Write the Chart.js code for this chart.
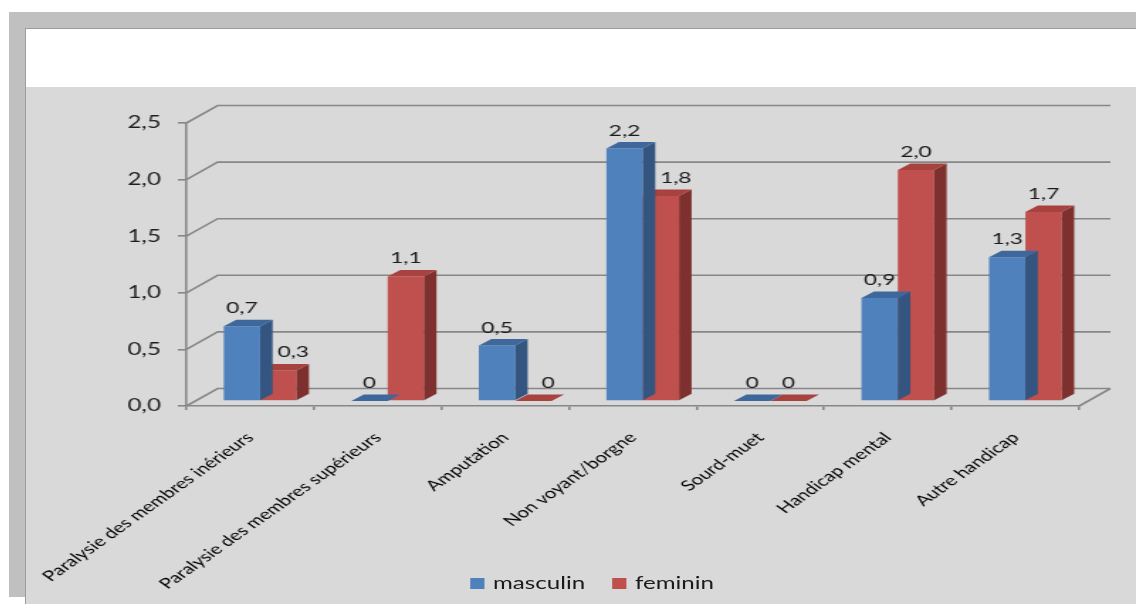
<!DOCTYPE html>
<html>
<head>
<meta charset="utf-8">
<script src="https://cdn.jsdelivr.net/npm/chart.js@4.4.1/dist/chart.umd.min.js"></script>
<style>
  html, body { margin: 0; padding: 0; background: #fff; width: 1136px; height: 604px; overflow: hidden; }
  #frame { position: absolute; left: 9px; top: 12px; width: 1127px; height: 585px; background: #c0c0c0; }
  #sheet { position: absolute; left: 25px; top: 28px; right: 0; bottom: 0; background: #fff; border-left: 1px solid #9c9c9c; border-top: 1px solid #9c9c9c; }
  /* the source picture is stretched sideways, so the chart is drawn narrow and widened */
  #stage { position: absolute; left: 26px; top: 87px; width: 782px; height: 517px; background: #d9d9d9; transform: scaleX(1.4194); transform-origin: 0 0; }
  #stage canvas { position: absolute; left: 0; top: 0; }
  #legend { position: absolute; left: 0; top: 0; width: 782px; height: 517px; font: 17px Lato, sans-serif; color: #1a1a1a; pointer-events: none; }
  #legend .sw { position: absolute; top: 491px; width: 10px; height: 11px; }
  #legend .tx { position: absolute; top: 486px; line-height: 20px; white-space: nowrap; }
</style>
</head>
<body>
<div id="frame"></div>
<div id="sheet"></div>
<div id="stage">
  <canvas id="chart" width="782" height="517"></canvas>
  <div id="legend"></div>
</div>
<script>
(() => {
  'use strict';
  const categories = ['Paralysie des membres inérieurs', 'Paralysie des membres supérieurs', 'Amputation', 'Non voyant/borgne', 'Sourd-muet', 'Handicap mental', 'Autre handicap'];
  const masculin = [0.66, 0, 0.49, 2.23, 0, 0.91, 1.27];
  const feminin = [0.27, 1.1, 0, 1.81, 0, 2.04, 1.67];
  const yTicks = [0, 0.5, 1, 1.5, 2, 2.5];

  const GRID = '#878787';
  const FRONT = ['#4f81bd', '#c0504d'];
  const TOP = ['#3e689c', '#a8423f'];
  const SIDE = ['#34557f', '#7e302e'];
  const FLOOR = { dx: 22, dy: -17.5 };   // depth of the floor / side wall
  const SHIFT = { dx: 7, dy: -5 };       // bars sit a little back from the front edge
  const DEPTH = { dx: 8.8, dy: -6.5 };   // depth of one bar

  const $ = id => document.getElementById(id);
  const fmt = v => v === 0 ? '0' : v.toFixed(1).replace('.', ',');

  function poly(ctx, pts, color) {
    ctx.fillStyle = color;
    ctx.beginPath();
    pts.forEach(([px, py], i) => i ? ctx.lineTo(px, py) : ctx.moveTo(px, py));
    ctx.closePath();
    ctx.fill();
  }

  const box3d = {
    id: 'box3d',
    beforeDatasetsDraw(chart) {
      const { ctx, chartArea: a, scales: { y } } = chart;
      ctx.save();
      ctx.strokeStyle = GRID; ctx.lineWidth = 1.6;
      ctx.beginPath();
      yTicks.forEach(v => {
        const py = y.getPixelForValue(v);
        ctx.moveTo(a.left, py);
        ctx.lineTo(a.left + FLOOR.dx, py + FLOOR.dy);
        ctx.lineTo(a.right + FLOOR.dx, py + FLOOR.dy);
      });
      ctx.moveTo(a.right, a.bottom);
      ctx.lineTo(a.right + FLOOR.dx, a.bottom + FLOOR.dy);
      ctx.stroke();
      ctx.restore();
      ctx.save();
      ctx.translate(SHIFT.dx, SHIFT.dy);
    },
    afterDatasetDraw(chart, args) {
      const ctx = chart.ctx, i = args.index;
      args.meta.data.forEach(bar => {
        const { x, y, base, width } = bar.getProps(['x', 'y', 'base', 'width'], true);
        const l = x - width / 2, r = x + width / 2;
        poly(ctx, [[r, y], [r + DEPTH.dx, y + DEPTH.dy], [r + DEPTH.dx, base + DEPTH.dy], [r, base]], SIDE[i]);
        poly(ctx, [[l, y], [r, y], [r + DEPTH.dx, y + DEPTH.dy], [l + DEPTH.dx, y + DEPTH.dy]], TOP[i]);
      });
    },
    afterDatasetsDraw(chart) {
      const ctx = chart.ctx;
      ctx.restore();
      ctx.save();
      ctx.translate(SHIFT.dx, SHIFT.dy);
      ctx.font = '16px Lato, sans-serif';
      ctx.fillStyle = '#1a1a1a';
      ctx.textAlign = 'center';
      ctx.textBaseline = 'alphabetic';
      chart.data.datasets.forEach((ds, i) => {
        chart.getDatasetMeta(i).data.forEach((bar, j) => {
          const v = ds.data[j];
          const nudge = i === 1 && masculin[j] > feminin[j] ? 10.5 : 0;
          ctx.fillText(fmt(v), bar.x + nudge, bar.y - 13);
        });
      });
      ctx.restore();
    }
  };

  function buildLegend() {
    const items = [['masculin', FRONT[0], 313, 329], ['feminin', FRONT[1], 413, 429]];
    $('legend').innerHTML = items.map(([t, c, sx, tx]) =>
      `<div class="sw" style="left:${sx}px;background:${c}"></div><div class="tx" style="left:${tx}px">${t}</div>`).join('');
  }

  new Chart($('chart'), {
    type: 'bar',
    data: {
      labels: categories,
      datasets: [
        { label: 'masculin', data: masculin, backgroundColor: FRONT[0], borderWidth: 0, categoryPercentage: 0.57, barPercentage: 1, clip: false },
        { label: 'feminin', data: feminin, backgroundColor: FRONT[1], borderWidth: 0, categoryPercentage: 0.57, barPercentage: 1, clip: false }
      ]
    },
    options: {
      responsive: false, animation: false, devicePixelRatio: 1,
      layout: { padding: { left: 0, right: 40, top: 36, bottom: 0 } },
      plugins: { legend: { display: false }, tooltip: { enabled: false } },
      scales: {
        x: {
          grid: { offset: true, drawOnChartArea: false, drawTicks: true, tickLength: 4, color: GRID, lineWidth: 1.6 },
          border: { display: true, color: GRID, width: 1.6 },
          ticks: { minRotation: 45, maxRotation: 45, autoSkip: false, padding: 19, color: '#000', font: { family: 'Lato', size: 14.5 } },
          afterFit: s => { s.height = 198; s.paddingLeft = 0; s.paddingRight = 0; }
        },
        y: {
          min: 0, max: 2.5,
          afterBuildTicks: s => { s.ticks = yTicks.map(v => ({ value: v })); },
          grid: { drawOnChartArea: false, drawTicks: true, tickLength: 6, color: GRID, lineWidth: 1.6 },
          border: { display: true, color: GRID, width: 1.6 },
          ticks: { padding: 12, color: '#1e1e1e', font: { family: 'Lato', size: 17 }, callback: v => v.toFixed(1).replace('.', ',') },
          afterFit: s => { s.width = 113; }
        }
      }
    },
    plugins: [box3d]
  });
  buildLegend();
})();
</script>
</body>
</html>
